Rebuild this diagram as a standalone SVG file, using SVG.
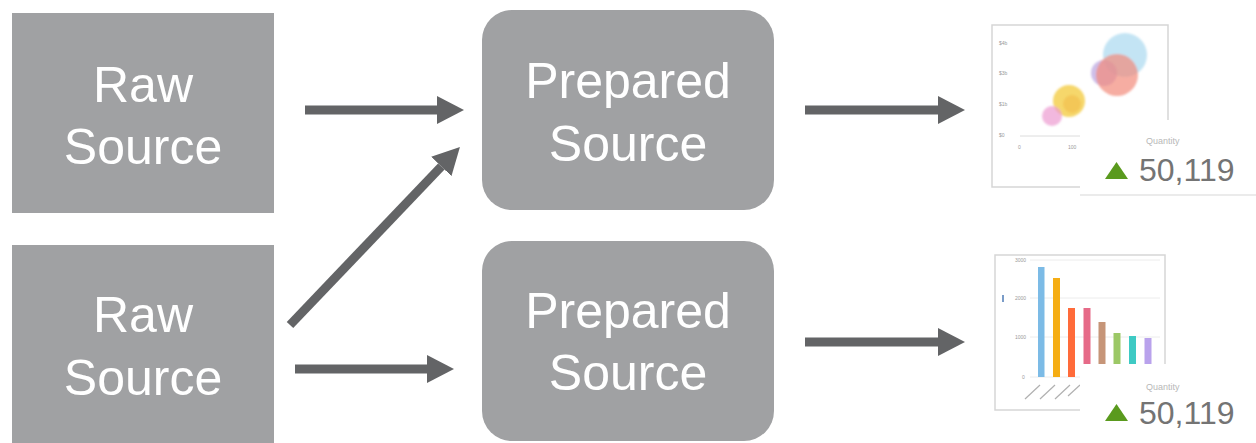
<svg xmlns="http://www.w3.org/2000/svg" width="1256" height="443" viewBox="0 0 1256 443">
<defs>
<style>
.box{fill:#a0a1a3}
.lbl{font-family:"Liberation Sans",Arial,sans-serif;font-size:50px;fill:#ffffff;text-anchor:middle}
.conn{stroke:#636466;stroke-width:9;fill:none}
.frame{fill:#ffffff;stroke:#d6d6d6;stroke-width:1.5}
.card{fill:#ffffff}
.qty{font-family:"Liberation Sans",Arial,sans-serif;font-size:9px;fill:#b8b8b8}
.num{font-family:"Liberation Sans",Arial,sans-serif;font-size:32px;fill:#747474}
.tick{font-family:"Liberation Sans",Arial,sans-serif;font-size:5px;fill:#9a9a9a}
.grid{stroke:#ececec;stroke-width:1}
</style>
<filter id="soft" x="-20%" y="-20%" width="140%" height="140%">
<feGaussianBlur stdDeviation="1.2"/>
</filter>
<marker id="ah" markerUnits="userSpaceOnUse" markerWidth="27" markerHeight="28" viewBox="0 0 27 28" refX="0" refY="14" orient="auto">
<path d="M0,0 L27,14 L0,28 Z" fill="#636466"/>
</marker>
</defs>
<rect width="1256" height="443" fill="#ffffff"/>

<g id="raw1">
<rect class="box" x="12" y="13" width="262" height="200"/>
<text class="lbl" x="143" y="102">Raw</text>
<text class="lbl" x="143" y="164">Source</text>
</g>
<g id="raw2">
<rect class="box" x="12" y="245" width="262" height="200"/>
<text class="lbl" x="143" y="332">Raw</text>
<text class="lbl" x="143" y="395">Source</text>
</g>
<g id="prep1">
<rect class="box" x="482" y="10" width="292" height="200" rx="30"/>
<text class="lbl" x="628" y="98">Prepared</text>
<text class="lbl" x="628" y="161">Source</text>
</g>
<g id="prep2">
<rect class="box" x="482" y="241" width="292" height="200" rx="30"/>
<text class="lbl" x="628" y="328">Prepared</text>
<text class="lbl" x="628" y="390">Source</text>
</g>

<g id="connectors">
<line class="conn" x1="305" y1="110" x2="437" y2="110" marker-end="url(#ah)"/>
<line class="conn" x1="290" y1="325" x2="441.3" y2="166.5" marker-end="url(#ah)"/>
<line class="conn" x1="295" y1="369" x2="427" y2="369" marker-end="url(#ah)"/>
<line class="conn" x1="805" y1="110" x2="938" y2="110" marker-end="url(#ah)"/>
<line class="conn" x1="805" y1="342" x2="938" y2="342" marker-end="url(#ah)"/>
</g>

<g id="chart1">
<rect class="frame" x="992" y="25" width="176" height="162"/>
<text class="tick" x="999" y="45">$4b</text>
<text class="tick" x="999" y="75">$3b</text>
<text class="tick" x="999" y="106">$1b</text>
<text class="tick" x="999" y="137">$0</text>
<line x1="1020" y1="136" x2="1100" y2="136" stroke="#dcdcdc" stroke-width="1"/>
<text class="tick" x="1018" y="149">0</text>
<text class="tick" x="1068" y="149">100</text>
<g filter="url(#soft)">
<circle cx="1125" cy="55" r="22" fill="#a9d8f0" opacity="0.7"/>
<circle cx="1104" cy="73" r="13" fill="#b9a4e0" opacity="0.7"/>
<circle cx="1117" cy="75" r="21" fill="#f28a7a" opacity="0.7"/>
<circle cx="1069" cy="101" r="16" fill="#f3c93a" opacity="0.75"/>
<circle cx="1052" cy="116" r="10" fill="#ec9ad0" opacity="0.7"/>
<circle cx="1072" cy="104" r="9" fill="#f0b440" opacity="0.45"/>
</g>
</g>
<g id="kpi1">
<rect class="card" x="1080" y="120" width="176" height="75"/>
<line x1="1080" y1="195" x2="1256" y2="195" stroke="#e4e4e4" stroke-width="1.5"/>
<text class="qty" x="1146" y="144">Quantity</text>
<polygon points="1105,179 1116.5,162 1128,179" fill="#5a9a1e"/>
<text class="num" x="1139" y="181">50,119</text>
</g>

<g id="chart2">
<rect class="frame" x="995" y="255" width="170" height="155"/>
<line class="grid" x1="1030" y1="260" x2="1160" y2="260"/>
<line class="grid" x1="1030" y1="298" x2="1160" y2="298"/>
<line class="grid" x1="1030" y1="337" x2="1160" y2="337"/>
<line class="grid" x1="1030" y1="377" x2="1160" y2="377"/>
<text class="tick" x="1015" y="262">3000</text>
<text class="tick" x="1015" y="300">2000</text>
<text class="tick" x="1015" y="339">1000</text>
<text class="tick" x="1022" y="379">0</text>
<rect x="1002" y="295" width="2" height="7" fill="#7a9cc8"/>
<rect x="1038" y="267" width="6.5" height="110" fill="#7cbbe6"/>
<rect x="1053" y="278" width="7" height="99" fill="#f5ad14"/>
<rect x="1068" y="308" width="7" height="69" fill="#ff6b3a"/>
<rect x="1083.5" y="308" width="7" height="69" fill="#e66a88"/>
<rect x="1098.5" y="322" width="7" height="55" fill="#c69578"/>
<rect x="1113.5" y="333" width="7" height="44" fill="#9cc866"/>
<rect x="1129" y="336" width="7" height="41" fill="#3ecac4"/>
<rect x="1144.5" y="338" width="7" height="39" fill="#b9a2ec"/>
<g stroke="#b0b0b0" stroke-width="1.2">
<line x1="1025" y1="399" x2="1040" y2="385"/>
<line x1="1040" y1="399" x2="1055" y2="385"/>
<line x1="1055" y1="399" x2="1070" y2="385"/>
<line x1="1068" y1="396" x2="1080" y2="385"/>
</g>
</g>
<g id="kpi2">
<rect class="card" x="1080" y="364" width="176" height="79"/>
<text class="qty" x="1146" y="390">Quantity</text>
<polygon points="1105,421 1116.5,404 1128,421" fill="#5a9a1e"/>
<text class="num" x="1139" y="424">50,119</text>
</g>
</svg>
